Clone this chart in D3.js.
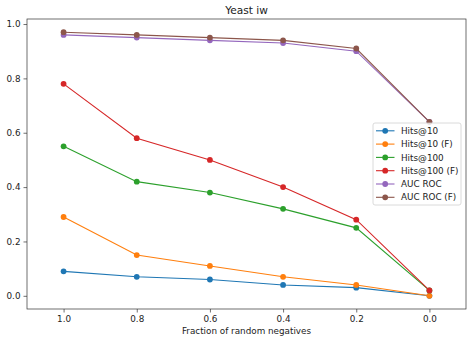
<!DOCTYPE html>
<html>
<head>
<meta charset="utf-8">
<script src="https://cdn.jsdelivr.net/npm/d3@7"></script>
<style>
  body { margin: 0; background: #fff; }
  svg { display: block; font-family: "DejaVu Sans", sans-serif; }
</style>
</head>
<body>
<div id="chart"></div>
<script>
// data
const fractions = [1.0, 0.8, 0.6, 0.4, 0.2, 0.0];
const seriesNames = ['Hits@10', 'Hits@10 (F)', 'Hits@100', 'Hits@100 (F)', 'AUC ROC', 'AUC ROC (F)'];
const hits10 = [0.09, 0.07, 0.06, 0.04, 0.03, 0.0];
const hits10F = [0.29, 0.15, 0.11, 0.07, 0.04, 0.0];
const hits100 = [0.55, 0.42, 0.38, 0.32, 0.25, 0.02];
const hits100F = [0.78, 0.58, 0.50, 0.40, 0.28, 0.02];
const aucRoc = [0.96, 0.95, 0.94, 0.93, 0.90, 0.64];
const aucRocF = [0.97, 0.96, 0.95, 0.94, 0.91, 0.64];
const xTicks = [1.0, 0.8, 0.6, 0.4, 0.2, 0.0];
const yTicks = [0.0, 0.2, 0.4, 0.6, 0.8, 1.0];

const colors = ['#1f77b4', '#ff7f0e', '#2ca02c', '#d62728', '#9467bd', '#8c564b'];
const allValues = [hits10, hits10F, hits100, hits100F, aucRoc, aucRocF];

const width = 472;
const height = 343;
const plotLeft = 27, plotRight = 466, plotTop = 19, plotBottom = 309;
const fontSize = '8.8px';

const svg = d3.select('#chart')
    .append('svg')
    .attr('width', width)
    .attr('height', height);

// scales (x is reversed like the original)
const xScale = d3.scaleLinear()
    .domain([1.1, -0.1])
    .range([plotLeft, plotRight]);

const yScale = d3.scaleLinear()
    .domain([-0.0485, 1.0185])
    .range([plotBottom, plotTop]);

// lines and markers
const line = d3.line()
    .x((d) => xScale(d.x))
    .y((d) => yScale(d.y));

allValues.forEach((vals, i) => {
    const pts = vals.map((v, j) => ({ x: fractions[j], y: v }));
    const g = svg.append('g').attr('class', 'series');
    g.append('path')
        .datum(pts)
        .attr('d', line)
        .attr('fill', 'none')
        .attr('stroke', colors[i])
        .attr('stroke-width', 1.1);
    g.selectAll('circle')
        .data(pts)
        .enter()
        .append('circle')
        .attr('cx', (d) => xScale(d.x))
        .attr('cy', (d) => yScale(d.y))
        .attr('r', 2.9)
        .attr('fill', colors[i]);
});

// axes
const xAxis = d3.axisBottom(xScale)
    .tickValues(xTicks)
    .tickFormat(d3.format('.1f'))
    .tickSizeOuter(0)
    .tickSize(3.5)
    .tickPadding(3);
const yAxis = d3.axisLeft(yScale)
    .tickValues(yTicks)
    .tickFormat(d3.format('.1f'))
    .tickSizeOuter(0)
    .tickSize(3.5)
    .tickPadding(3);

const gx = svg.append('g')
    .attr('transform', `translate(0, ${plotBottom})`)
    .call(xAxis);
const gy = svg.append('g')
    .attr('transform', `translate(${plotLeft}, 0)`)
    .call(yAxis);

[gx, gy].forEach((g) => {
    g.select('.domain').remove();
    g.selectAll('line').attr('stroke', '#333').attr('stroke-width', 0.7);
    g.selectAll('text')
        .attr('fill', '#222')
        .style('font-family', '"DejaVu Sans", sans-serif')
        .style('font-size', fontSize);
});

// frame
svg.append('rect')
    .attr('x', plotLeft)
    .attr('y', plotTop)
    .attr('width', plotRight - plotLeft)
    .attr('height', plotBottom - plotTop)
    .attr('fill', 'none')
    .attr('stroke', '#333')
    .attr('stroke-width', 0.7);

// title and axis label
svg.append('text')
    .attr('x', (plotLeft + plotRight) / 2)
    .attr('y', 14)
    .attr('text-anchor', 'middle')
    .style('font-size', '10.6px')
    .attr('fill', '#222')
    .text('Yeast iw');

svg.append('text')
    .attr('x', (plotLeft + plotRight) / 2)
    .attr('y', 334)
    .attr('text-anchor', 'middle')
    .style('font-size', fontSize)
    .attr('fill', '#222')
    .text('Fraction of random negatives');

// legend
const lx = 373, ly = 123;
const legend = svg.append('g').attr('transform', `translate(${lx}, ${ly})`);
legend.append('rect')
    .attr('width', 88)
    .attr('height', 82)
    .attr('rx', 2)
    .attr('fill', 'rgba(255,255,255,0.8)')
    .attr('stroke', '#d0d0d0')
    .attr('stroke-width', 0.8);

seriesNames.forEach((name, i) => {
    const yy = 7.8 + i * 13.3;
    legend.append('line')
        .attr('x1', 3).attr('x2', 21.5)
        .attr('y1', yy).attr('y2', yy)
        .attr('stroke', colors[i])
        .attr('stroke-width', 1.1);
    legend.append('circle')
        .attr('cx', 12.2).attr('cy', yy).attr('r', 2.9)
        .attr('fill', colors[i]);
    legend.append('text')
        .attr('x', 28)
        .attr('y', yy + 3.1)
        .style('font-size', fontSize)
        .attr('fill', '#222')
        .text(name);
});
</script>
</body>
</html>
